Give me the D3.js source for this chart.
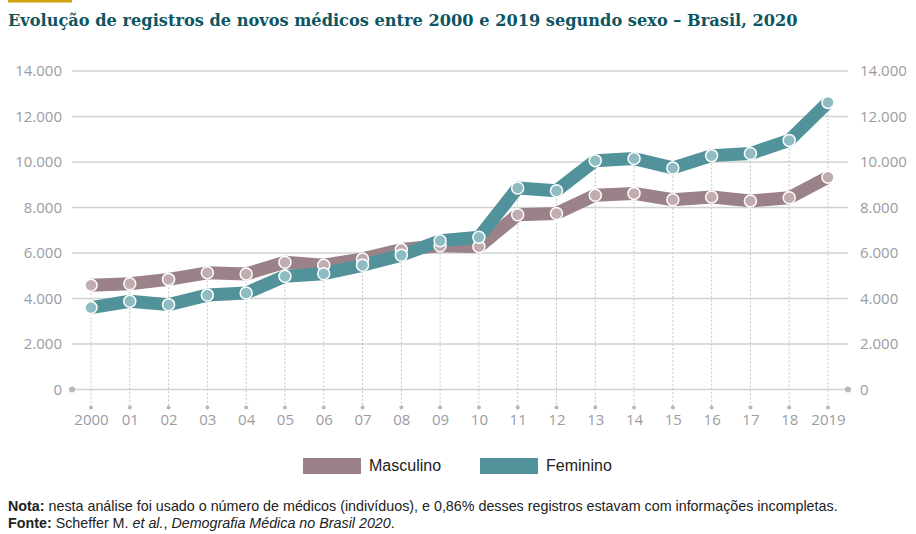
<!DOCTYPE html>
<html>
<head>
<meta charset="utf-8">
<script src="https://cdn.jsdelivr.net/npm/d3@7"></script>
<style>
  body { margin: 0; background: #fff; }
  svg text { font-family: "Open Sans", sans-serif; }
</style>
</head>
<body>
<div id="chart"></div>
<script>
var years = ["2000","01","02","03","04","05","06","07","08","09","10","11","12","13","14","15","16","17","18","2019"];
var masculino = [4580,4650,4840,5130,5080,5590,5460,5740,6150,6320,6280,7680,7740,8540,8620,8340,8460,8290,8430,9330];
var feminino = [3600,3880,3730,4150,4240,4980,5090,5460,5900,6540,6690,8860,8740,10060,10150,9740,10280,10370,10950,12620];
var yTicks = [0,2000,4000,6000,8000,10000,12000,14000];
var seriesNames = ["Masculino","Feminino"];

var width = 916, height = 534;
var margins = {top: 71, left: 72, right: 68, bottom: 145};
var colors = {line: ["#9b8289","#52939b"], dot: ["#c1acaf","#8ebcc2"]};

var svg = d3.select("#chart").append("svg")
    .attr("width", width)
    .attr("height", height);

// yellow mark + title
svg.append("rect")
    .attr("x", 8).attr("y", 0)
    .attr("width", 64).attr("height", 2.5)
    .attr("fill", "#d4a20d");
svg.append("text")
    .attr("x", 8).attr("y", 26)
    .style("font-family", "'DejaVu Serif', serif")
    .style("font-weight", "bold")
    .style("font-size", "16.2px")
    .attr("fill", "#0d5561")
    .text("Evolução de registros de novos médicos entre 2000 e 2019 segundo sexo – Brasil, 2020");

var x = d3.scalePoint()
    .domain(years)
    .range([91, 828]);
var y = d3.scaleLinear()
    .domain([0, 14000])
    .range([389.5, 71]);

var fmt = function (d) { return d3.format(",")(d).replace(/,/g, "."); };

// gridlines
svg.append("g").selectAll("line.grid")
    .data(yTicks)
    .enter().append("line")
    .attr("class", "grid")
    .attr("x1", margins.left).attr("x2", width - margins.right)
    .attr("y1", function (d) { return y(d); })
    .attr("y2", function (d) { return y(d); })
    .attr("stroke", "#d2d2d2")
    .attr("stroke-width", 1.5);

// axis labels left / right
var leftAxis = d3.axisLeft(y).tickValues(yTicks).tickFormat(fmt).tickSize(0).tickPadding(10);
var rightAxis = d3.axisRight(y).tickValues(yTicks).tickFormat(fmt).tickSize(0).tickPadding(12);
svg.append("g").attr("transform", "translate(" + margins.left + ",0)").call(leftAxis);
svg.append("g").attr("transform", "translate(" + (width - margins.right) + ",0)").call(rightAxis);
svg.selectAll(".domain").remove();
svg.selectAll(".tick text")
    .style("font-size", "15px")
    .attr("fill", "#9a9ca3");

// zero-line end dots
svg.selectAll("circle.end")
    .data([margins.left, width - margins.right])
    .enter().append("circle")
    .attr("class", "end")
    .attr("cx", function (d) { return d; })
    .attr("cy", y(0))
    .attr("r", 3)
    .attr("fill", "#b8b8b8");

// vertical dotted drop lines
var topOf = years.map(function (d, i) { return Math.max(masculino[i], feminino[i]); });
svg.append("g").selectAll("line.drop")
    .data(years)
    .enter().append("line")
    .attr("class", "drop")
    .attr("x1", function (d) { return x(d); })
    .attr("x2", function (d) { return x(d); })
    .attr("y1", function (d, i) { return y(topOf[i]); })
    .attr("y2", 407)
    .attr("stroke", "#c4c4c4")
    .attr("stroke-width", 1)
    .attr("stroke-dasharray", "2,2");
svg.append("g").selectAll("circle.drop")
    .data(years)
    .enter().append("circle")
    .attr("cx", function (d) { return x(d); })
    .attr("cy", 407.5)
    .attr("r", 2)
    .attr("fill", "#b8b8b8");

// x labels
var xAxis = d3.axisBottom(x).tickSize(0).tickPadding(0);
var xg = svg.append("g").attr("transform", "translate(0,414)").call(xAxis);
xg.select(".domain").remove();
xg.selectAll("text")
    .style("font-size", "15px")
    .attr("fill", "#9a9ca3");

// lines
var line = d3.line()
    .x(function (d, i) { return x(years[i]); })
    .y(function (d) { return y(d); });
var allSeries = [masculino, feminino];

allSeries.forEach(function (s, k) {
    svg.append("path")
        .datum(s)
        .attr("d", line)
        .attr("fill", "none")
        .attr("stroke", colors.line[k])
        .attr("stroke-width", 13)
        .attr("stroke-linejoin", "round");
});
allSeries.forEach(function (s, k) {
    svg.append("g").selectAll("circle")
        .data(s)
        .enter().append("circle")
        .attr("cx", function (d, i) { return x(years[i]); })
        .attr("cy", function (d) { return y(d); })
        .attr("r", 6)
        .attr("fill", colors.dot[k])
        .attr("stroke", "#fff")
        .attr("stroke-width", 1.5);
});

// legend
var legendX = [303, 480];
var lg = svg.append("g");
seriesNames.forEach(function (name, k) {
    lg.append("rect")
        .attr("x", legendX[k]).attr("y", 458)
        .attr("width", 58).attr("height", 16)
        .attr("fill", colors.line[k]);
    lg.append("text")
        .attr("x", legendX[k] + 66).attr("y", 471)
        .style("font-family", "'Liberation Sans', sans-serif")
        .style("font-size", "16px")
        .attr("fill", "#222")
        .text(name);
});

// notes
var note = svg.append("text")
    .attr("x", 8).attr("y", 511)
    .style("font-family", "'Liberation Sans', sans-serif")
    .style("font-size", "14.3px")
    .attr("fill", "#222");
note.append("tspan").style("font-weight", "bold").text("Nota:");
note.append("tspan").text(" nesta análise foi usado o número de médicos (indivíduos), e 0,86% desses registros estavam com informações incompletas.");

var src = svg.append("text")
    .attr("x", 8).attr("y", 528)
    .style("font-family", "'Liberation Sans', sans-serif")
    .style("font-size", "14.3px")
    .attr("fill", "#222");
src.append("tspan").style("font-weight", "bold").text("Fonte:");
src.append("tspan").text(" Scheffer M. ");
src.append("tspan").style("font-style", "italic").text("et al.");
src.append("tspan").text(", ");
src.append("tspan").style("font-style", "italic").text("Demografia Médica no Brasil 2020");
src.append("tspan").text(".");
</script>
</body>
</html>
